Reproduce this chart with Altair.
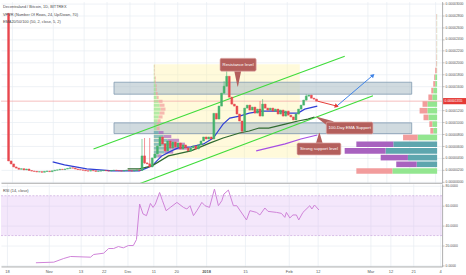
import json
import altair as alt
import pandas as pd

# ------------------------------------------------------------------ texts
legend_lines = ["Decentraland / Bitcoin, 1D, BITTREX",
                "VPVR (Number Of Rows, 24, Up/Down, 70)",
                "EMA20/50/100 (50, 2, close, 5, 2)"]
rsi_title = "RSI (14, close)"

# ------------------------------------------------------------------ axes (x in trading days, price in satoshi)
x_tick_pos = [2.3, 18.2, 30.3, 39.1, 48.2, 58.0, 66.7, 78.1, 92.9, 109.6, 120.6, 140.7, 148.3, 157.0, 167.2]
x_tick_lab = ["18", "Nov", "13", "22", "Dec", "11", "20", "2018", "15", "Feb", "12", "Mar", "12", "21", "4"]
price_ticks = [0, 200, 400, 600, 800, 1000, 1200, 1600, 1800, 2000, 2200, 2400, 2600, 2800, 3000]
rsi_ticks = [0, 20, 40, 60, 80]
last_price = 1355

# ------------------------------------------------------------------ candles
first_open = 2830
closes = [350,
          300, 250, 230, 210, 220, 200, 215, 190, 180, 175, 165, 170, 160, 175, 180, 170, 185, 195, 200, 210,
          205, 215, 225, 235, 230, 215, 205, 200, 195, 185, 180, 190, 185, 175, 180, 185, 190, 185, 180, 190,
          195, 190, 185, 180, 190, 195, 185, 180, 190, 200, 190,
          435, 318, 301, 250, 401, 468, 602, 753, 636, 519, 686, 569, 669, 585, 652, 552, 619, 569, 519, 569,
          602, 552, 619, 686, 753, 719, 753, 719, 1150, 1054, 1272, 1489, 1606, 1773, 1422, 1305, 1272, 1138,
          1021, 853, 1238, 1288, 1205, 1255, 1154, 1221, 1104, 1305, 1238, 1205, 1238, 1188, 1221, 1138, 1205,
          1104, 1188, 1120, 1090, 1040, 1138, 1221, 1288, 1372, 1439, 1456, 1405, 1389, 1355]
wick_day = [53, 54, 56, 85, 86, 92, 99, 100, 117]
wick_hi = [720, 736, 736, 1690, 1907, 1021, 1355, 1390, 1470]
wick_lo = [230, 301, 250, 1489, 1606, 820, 1104, 1238, 1372]

# ------------------------------------------------------------------ moving averages
ema_a_day = [18.2, 22.8, 31.5, 41.7, 52.0, 55.0, 56.9, 60.7, 64.5, 67.1, 72.1, 77.0, 80.8, 82.7, 84.6,
             87.2, 91.0, 94.8, 99.7, 106.2, 110.0, 113.8, 116.4, 121.3]
ema_a_val = [335, 284, 218, 184, 184, 234, 268, 435, 519, 569, 586, 636, 736, 853, 970,
             1071, 1104, 1154, 1188, 1188, 1154, 1154, 1221, 1272]
ema_b_day = [47.4, 52.0, 56.9, 63.3, 72.1, 79.6, 84.6, 87.2, 91.0, 94.8, 98.6, 102.4, 108.8, 113.8, 117.6, 120.2]
ema_b_val = [218, 218, 268, 435, 519, 653, 736, 770, 820, 853, 903, 903, 970, 1021, 1054, 1088]
ema_c_day = [97.5, 108.8, 114.9, 121.3]
ema_c_val = [519, 636, 719, 786]

# ------------------------------------------------------------------ drawings
chan_upper_day = [34.1, 132.0]
chan_upper_val = [552, 2108]
chan_lower_day = [52.0, 143.0]
chan_lower_val = [-33, 1445]

zone_day = [42.1, 158.1]
zone_lo = [1472, 810]
zone_hi = [1673, 990]

range_day = [57.6, 114.5]
range_val = [402, 1974]

notes = ["Resistance level", "100-Day EMA Support", "Strong support level"]
note_day0 = [83.4, 124.8, 113.4]
note_day1 = [97.5, 143.0, 130.5]
note_lo = [1857, 803, 451]
note_hi = [2075, 1004, 653]
note_base_day = [90.3, 126.6, 122.1]
note_base_val = [1865, 970, 640]
note_tip_day = [90.3, 121.0, 122.1]
note_tip_val = [1606, 1088, 820]

arrow_day0 = [121.4, 128.9]
arrow_val0 = [1355, 1272]
arrow_day1 = [128.9, 143.0]
arrow_val1 = [1272, 1790]
arrow_color = ["#e53935", "#3f83e6"]
arrow_angle = [108, 48]

# ------------------------------------------------------------------ volume profiles (24 rows)
vis_lo, vis_hi = 125, 2827
vis_up = [46, 21, 30, 53, 45, 20, 4, 5, 9, 10, 10, 5, 4, 2, 2, 0.5, 0.4, 0.3, 0.3, 0.3, 0.3, 0.3, 0.3, 0.3]
vis_down = [37, 21, 28, 42, 38, 15, 3, 3, 5, 8, 5, 4, 2, 2, 1, 1.5, 0.5, 0.4, 0.3, 0.3, 0.3, 0.3, 0.3, 0.4]
vis_va = [0, 1, 1, 1, 1, 0, 0, 0, 0, 0, 0, 0, 0, 0, 0, 0, 0, 0, 0, 0, 0, 0, 0, 0]
fix_up = [4, 11, 18, 17, 14, 10, 5, 3, 3, 4, 5, 6, 7, 6, 5, 3, 2, 2, 2, 1, 1, 0.5, 0.5, 0.5]
fix_down = [4, 9, 16, 15, 12, 8, 5, 3, 3, 3, 4, 5, 5, 5, 4, 2, 2, 1, 1, 1, 1, 0.5, 0.5, 0.5]
fix_va = [1, 1, 1, 1, 1, 1, 1, 0, 0, 0, 0, 0, 0, 0, 0, 0, 0, 0, 0, 0, 0, 0, 0, 0]

# ------------------------------------------------------------------ RSI
rsi_day = [13.3, 20.1, 23.9, 26.5, 34.1, 35.3, 39.1, 41.0, 42.9, 44.7, 46.6, 48.5, 50.4, 51.6, 52.8,
           54.1, 55.4, 56.9, 57.9, 58.8, 60.4, 61.5, 62.9, 64.5, 67.0, 69.5, 70.8, 72.0, 73.3, 74.6,
           76.5, 77.7, 79.4, 81.3, 82.8, 84.1, 84.9, 86.6, 88.5, 89.8, 93.5, 94.8, 97.3, 98.6, 100.5,
           101.7, 104.9, 106.8, 108.1, 108.7, 110.0, 111.2, 112.5, 113.4, 115.0, 117.6, 118.4, 119.4, 121.1]
rsi_val = [2.7, 3.3, 7, 9, 8.3, 11, 12.3, 17, 17, 19, 17.7, 20, 20, 26, 61.7,
           51.7, 50, 62.3, 58.3, 61.7, 73.3, 65, 55, 58.3, 63.3, 58.3, 56.7, 60, 50, 55,
           63.3, 60, 58.3, 76.7, 60, 65, 71.7, 75.7, 60, 60, 45.7, 55, 53.3, 50.7, 57.7,
           54.3, 53.3, 52.3, 48.3, 53.3, 47.7, 50.7, 50.7, 45.7, 53.3, 60, 56.7, 60.7, 55.7]

# ------------------------------------------------------------------ styling
W, H_PRICE, H_RSI = 443, 182, 83
DAY_MAX = 168
PX_PER_DAY = W / DAY_MAX
FONT = "Liberation Sans"
GRID = "#e7ecf2"
AXC = "#9a9a9a"
UP, DOWN = "#45b36c", "#e8484f"
NOTE_FILL, NOTE_STROKE = "#b45f5c", "#e2b3b1"
VP_COL = {"green": "#93e690", "red": "#f29c9c", "teal": "#5ea6ae", "purple": "#a862bf"}

# ------------------------------------------------------------------ frames
days = list(range(1, len(closes) + 1))
opens = [first_open] + closes[:-1]
cdf = pd.DataFrame({"day": days, "open": opens, "close": closes})
cdf["col"] = [UP if c >= o else DOWN for o, c in zip(opens, closes)]
wdf = pd.DataFrame({"day": wick_day, "hi": wick_hi, "lo": wick_lo})
wdf["col"] = [cdf.loc[cdf.day == d, "col"].iloc[0] for d in wick_day]


def vp_frame(lo, hi, up, down, va, anchor, direction, gap):
    rh = (hi - lo) / len(up)
    recs = []
    for i, (u, d, v) in enumerate(zip(up, down, va)):
        y0 = lo + i * rh + gap * rh
        y1 = lo + (i + 1) * rh - gap * rh
        a1 = anchor + direction * u / PX_PER_DAY
        a2 = a1 + direction * d / PX_PER_DAY
        recs.append(dict(x0=anchor, x1=a1, y0=y0, y1=y1, col=VP_COL["teal" if v else "green"]))
        recs.append(dict(x0=a1, x1=a2, y0=y0, y1=y1, col=VP_COL["purple" if v else "red"]))
    return pd.DataFrame(recs)


vis_df = vp_frame(vis_lo, vis_hi, vis_up, vis_down, vis_va, DAY_MAX, -1, 0.08)
fix_df = vp_frame(range_val[0], range_val[1], fix_up, fix_down, fix_va, range_day[0], 1, 0.1)

xs = alt.Scale(domain=[0, DAY_MAX], nice=False, zero=False)
ys = alt.Scale(domain=[-17, 3028], nice=False, zero=False)
yr = alt.Scale(domain=[-1, 82], nice=False, zero=False)

ax_x_price = alt.Axis(values=x_tick_pos, labels=False, ticks=False, title=None, grid=True,
                      gridColor=GRID, gridWidth=0.7, domainColor=AXC, domainWidth=0.8)
ax_y_common = dict(orient="right", title=None, grid=True, gridColor=GRID, gridWidth=0.7,
                   domainColor=AXC, domainWidth=0.8, tickColor=AXC, tickSize=2, tickWidth=0.6,
                   labelFontSize=3.4, labelFont=FONT, labelColor="#555555", labelPadding=1)
ax_y_price = alt.Axis(values=price_ticks, labelExpr="format(datum.value / 100000000, '.8f')", **ax_y_common)
lab_expr = "%s[indexof(%s, datum.value)]" % (json.dumps(x_tick_lab), json.dumps(x_tick_pos))
ax_x_rsi = alt.Axis(values=x_tick_pos, labelExpr=lab_expr, ticks=False, title=None, grid=True,
                    gridColor=GRID, gridWidth=0.7, domainColor=AXC, domainWidth=0.8,
                    labelFontSize=4, labelFont=FONT, labelColor="#555555", labelPadding=3,
                    labelFlush=False, labelOverlap=False,
                    labelFontWeight={"condition": {"test": "datum.value == 78.1", "value": "bold"},
                                     "value": "normal"})
ax_y_rsi = alt.Axis(values=rsi_ticks, format=".4f", **ax_y_common)


def PX(f):
    return alt.X(f, type="quantitative", scale=xs, axis=ax_x_price)


def PY(f):
    return alt.Y(f, type="quantitative", scale=ys, axis=ax_y_price)


# ------------------------------------------------------------------ price panel layers
yellow = alt.Chart(pd.DataFrame({"x0": [range_day[0]], "x1": [range_day[1]],
                                 "y0": [range_val[0]], "y1": [range_val[1]]})).mark_rect(
    color="#fff3a0", opacity=0.38).encode(x=PX("x0"), x2="x1", y=PY("y0"), y2="y1")

zones = alt.Chart(pd.DataFrame({"x0": [zone_day[0]] * 2, "x1": [zone_day[1]] * 2,
                                "y0": zone_lo, "y1": zone_hi})).mark_rect(
    fill="#a9bcc5", fillOpacity=0.55, stroke="#7f99b0", strokeWidth=0.8).encode(
    x=PX("x0"), x2="x1", y=PY("y0"), y2="y1")

vis_layer = alt.Chart(vis_df).mark_rect().encode(
    x=PX("x0"), x2="x1", y=PY("y0"), y2="y1", color=alt.Color("col:N", scale=None))
fix_layer = alt.Chart(fix_df).mark_rect(opacity=0.7).encode(
    x=PX("x0"), x2="x1", y=PY("y0"), y2="y1", color=alt.Color("col:N", scale=None))

price_line = alt.Chart(pd.DataFrame({"p": [last_price]})).mark_rule(
    color="#f3a3a3", strokeWidth=0.7).encode(y=PY("p"))

chan_df = pd.DataFrame({"id": ["u", "u", "l", "l"],
                        "day": chan_upper_day + chan_lower_day,
                        "p": chan_upper_val + chan_lower_val})
channel = alt.Chart(chan_df).mark_line(color="#3fdc3a", strokeWidth=1.1, clip=True).encode(
    x=PX("day"), y=PY("p"), detail="id:N")


def ema_layer(dd, vv, col):
    return alt.Chart(pd.DataFrame({"day": dd, "p": vv})).mark_line(
        color=col, strokeWidth=1.2).encode(x=PX("day"), y=PY("p"))


ema_a = ema_layer(ema_a_day, ema_a_val, "#2f3fd6")
ema_b = ema_layer(ema_b_day, ema_b_val, "#2f6a2f")
ema_c = ema_layer(ema_c_day, ema_c_val, "#a64ee3")

wicks = alt.Chart(wdf).mark_rule(strokeWidth=0.6).encode(
    x=PX("day"), y=PY("lo"), y2="hi", color=alt.Color("col:N", scale=None))
bodies = alt.Chart(cdf).mark_bar(width=1.9, strokeWidth=0.5).encode(
    x=PX("day"), y=PY("open"), y2="close",
    color=alt.Color("col:N", scale=None), stroke=alt.Stroke("col:N", scale=None))

ptr_rows = []
for i in range(len(notes)):
    ptr_rows.append(dict(id=i, k=0, day=note_base_day[i], p=note_base_val[i], w=7))
    ptr_rows.append(dict(id=i, k=1, day=note_tip_day[i], p=note_tip_val[i], w=0.6))
pointers = alt.Chart(pd.DataFrame(ptr_rows)).mark_trail(color=NOTE_FILL).encode(
    x=PX("day"), y=PY("p"), size=alt.Size("w:Q", scale=None, legend=None),
    detail="id:N", order="k:Q")

note_df = pd.DataFrame({"label": notes, "x0": note_day0, "x1": note_day1, "y0": note_lo, "y1": note_hi})
note_df["cx"] = (note_df.x0 + note_df.x1) / 2
note_df["cy"] = (note_df.y0 + note_df.y1) / 2
note_boxes = alt.Chart(note_df).mark_rect(
    fill=NOTE_FILL, stroke=NOTE_STROKE, strokeWidth=0.7, cornerRadius=1.5).encode(
    x=PX("x0"), x2="x1", y=PY("y0"), y2="y1")
note_text = alt.Chart(note_df).mark_text(
    color="white", fontSize=4.3, font=FONT, baseline="middle").encode(
    x=PX("cx"), y=PY("cy"), text="label:N")

arr_rows = []
for i in range(2):
    arr_rows.append(dict(id=i, k=0, day=arrow_day0[i], p=arrow_val0[i], col=arrow_color[i]))
    arr_rows.append(dict(id=i, k=1, day=arrow_day1[i], p=arrow_val1[i], col=arrow_color[i]))
arrows = alt.Chart(pd.DataFrame(arr_rows)).mark_line(strokeWidth=1).encode(
    x=PX("day"), y=PY("p"), detail="id:N", order="k:Q", color=alt.Color("col:N", scale=None))
heads = alt.Chart(pd.DataFrame({"day": arrow_day1, "p": arrow_val1, "col": arrow_color,
                                "ang": arrow_angle})).mark_point(
    shape="triangle-up", filled=True, size=22, opacity=1).encode(
    x=PX("day"), y=PY("p"), color=alt.Color("col:N", scale=None), angle=alt.Angle("ang:Q", scale=None))

price_tag = alt.Chart(pd.DataFrame({"p": [last_price]})).mark_point(
    shape="M-1,-0.27L1,-0.27L1,0.27L-1,0.27Z", size=529, filled=True, color="#e53935", opacity=1).encode(
    x=alt.value(455.5), y=PY("p"))
price_tag_text = alt.Chart(pd.DataFrame({"p": [last_price]})).mark_text(
    align="left", baseline="middle", fontSize=3.4, font=FONT, color="white").encode(
    x=alt.value(445.5), y=PY("p"), text=alt.Text("p:Q", format=".0f"))
price_tag_text = price_tag_text.transform_calculate(
    lbl="format(datum.p / 100000000, '.8f')").encode(text="lbl:N")

legend_layers = []
for i, (t, yy) in enumerate(zip(legend_lines, [5.5, 13, 20.5])):
    legend_layers.append(alt.Chart(pd.DataFrame({"t": [t]})).mark_text(
        align="left", baseline="middle", fontSize=3.9, font=FONT, color="#4a4a4a").encode(
        x=alt.value(2), y=alt.value(yy), text="t:N"))

price = alt.layer(yellow, zones, vis_layer, fix_layer, price_line, channel, ema_a, ema_b, ema_c,
                  wicks, bodies, pointers, note_boxes, note_text, arrows, heads,
                  price_tag, price_tag_text, *legend_layers).properties(width=W, height=H_PRICE)

# ------------------------------------------------------------------ RSI panel
def RX(f):
    return alt.X(f, type="quantitative", scale=xs, axis=ax_x_rsi)


def RY(f):
    return alt.Y(f, type="quantitative", scale=yr, axis=ax_y_rsi)


band = alt.Chart(pd.DataFrame({"x0": [0], "x1": [DAY_MAX], "lo": [30], "hi": [70]})).mark_rect(
    color="#deb6f3", opacity=0.33).encode(x=RX("x0"), x2="x1", y=RY("lo"), y2="hi")
band_edges = alt.Chart(pd.DataFrame({"v": [30, 70]})).mark_rule(
    color="#c8a6dc", strokeWidth=0.7, strokeDash=[2, 1.5]).encode(y=RY("v"))
rsi_line = alt.Chart(pd.DataFrame({"day": rsi_day, "v": rsi_val})).mark_line(
    color="#cf82d8", strokeWidth=1).encode(x=RX("day"), y=RY("v"))
rsi_label = alt.Chart(pd.DataFrame({"t": [rsi_title]})).mark_text(
    align="left", baseline="middle", fontSize=3.9, font=FONT, color="#4a4a4a").encode(
    x=alt.value(2), y=alt.value(7), text="t:N")

rsi = alt.layer(band, band_edges, rsi_line, rsi_label).properties(width=W, height=H_RSI)

chart = alt.vconcat(price, rsi, spacing=1, bounds="flush").properties(
    padding=0, background="white").configure_view(stroke=None)

chart.save("out.html", embed_options={"renderer": "svg", "actions": False})
